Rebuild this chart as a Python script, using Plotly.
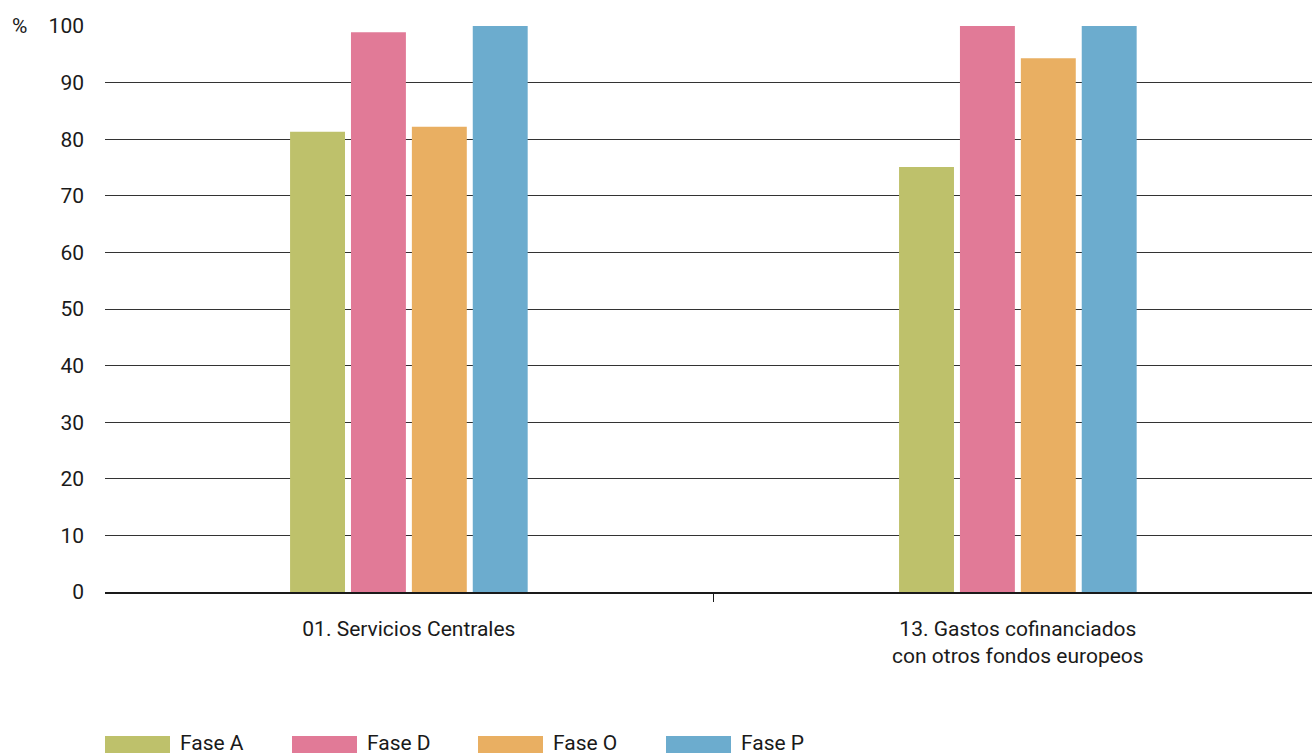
import plotly.graph_objects as go

categories = ["01. Servicios Centrales", "13. Gastos cofinanciados<br>con otros fondos europeos"]
series_names = ["Fase A", "Fase D", "Fase O", "Fase P"]
fase_a = [81.3, 75.1]
fase_d = [98.9, 100.0]
fase_o = [82.2, 94.3]
fase_p = [100.0, 100.0]
y_ticks = list(range(0, 101, 10))

colors = ["#bec16b", "#e17a97", "#e9af62", "#6cacce"]
FONT = "Roboto, sans-serif"
FS = 21

fig = go.Figure()
for name, vals, col in zip(series_names, [fase_a, fase_d, fase_o, fase_p], colors):
    fig.add_trace(go.Bar(x=categories, y=vals, name=name, marker=dict(color=col, line=dict(width=0)),
                         showlegend=False))

fig.update_layout(
    width=1312, height=754,
    margin=dict(l=105, r=0, t=26, b=162),
    paper_bgcolor="white", plot_bgcolor="white",
    barmode="group", bargap=0.6, bargroupgap=0.098,
    font=dict(family=FONT, size=FS, color="#1a1a1a"),
    xaxis=dict(type="category", range=[-0.499, 1.483], showline=True, linecolor="#1a1a1a", linewidth=1.5,
               ticks="outside", tickson="boundaries", ticklen=8, tickcolor="#1a1a1a", tickwidth=1,
               showgrid=False, ticklabelstandoff=17),
    yaxis=dict(range=[0, 100], tickvals=y_ticks, showgrid=True, gridcolor="#333333", gridwidth=1.2,
               zeroline=False, showline=False, ticks="", ticklabelstandoff=20, fixedrange=True),
)

fig.add_annotation(text="%", xref="paper", yref="y", x=-0.063, y=100, xanchor="right", yanchor="middle",
                   showarrow=False, font=dict(family=FONT, size=FS, color="#1a1a1a"))

# legend drawn as wide swatches
legend_x = [105, 292, 478, 666]
for name, col, lx in zip(series_names, colors, legend_x):
    x0 = (lx - 105) / 1207
    x1 = (lx + 65 - 105) / 1207
    fig.add_shape(type="rect", xref="paper", yref="paper", x0=x0, x1=x1,
                  y0=(592 - 753) / 566, y1=(592 - 736) / 566, fillcolor=col, line=dict(width=0))
    fig.add_annotation(text=name, xref="paper", yref="paper", x=(lx + 73 - 105) / 1207,
                       y=(592 - 743) / 566, xanchor="left", yanchor="middle", showarrow=False,
                       font=dict(family=FONT, size=FS, color="#1a1a1a"))

fig.write_html("out.html", config={"displayModeBar": False},
               post_script="document.body.style.margin='0';document.body.style.overflow='hidden';")
